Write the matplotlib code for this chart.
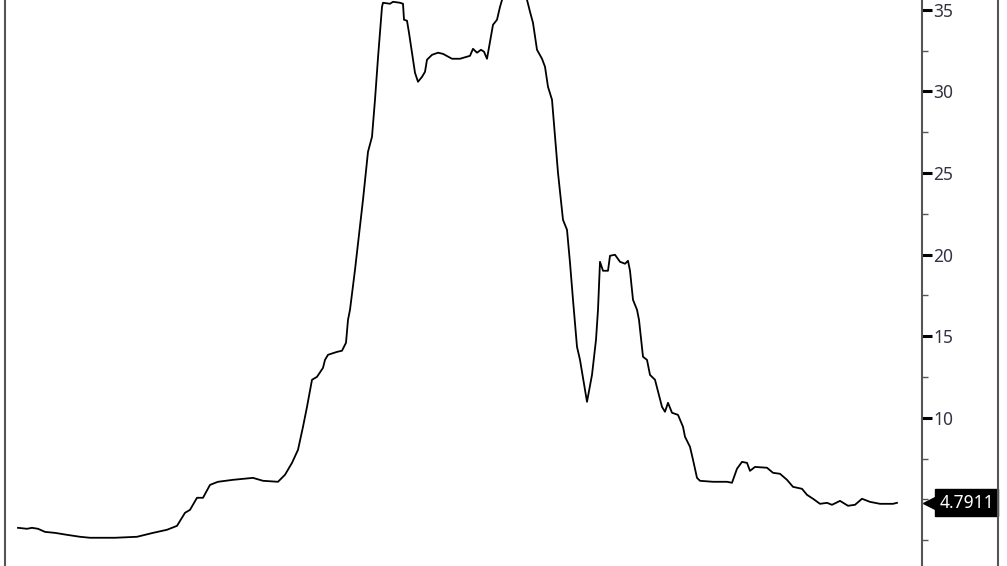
import matplotlib
matplotlib.use("Agg")
import matplotlib.pyplot as plt
from matplotlib.lines import Line2D
from matplotlib.ticker import MultipleLocator, FixedLocator

plt.rcParams["font.family"] = ["Noto Sans", "DejaVu Sans"]

# time index (arbitrary units) and series values
day = [18, 27, 32, 38, 45, 55, 67, 80, 90, 115, 137, 153, 167, 177, 185, 190, 197, 203,
       210, 218, 233, 253, 263, 278, 285, 292, 298, 303, 307, 312, 317, 323, 325, 328,
       337, 342, 346, 348, 350, 355, 363, 368, 372, 375, 378, 382, 383, 390, 393, 400,
       403, 404, 407, 409, 413, 415, 418, 422, 425, 427, 432, 438, 443, 452, 460, 470,
       473, 477, 481, 484, 487, 493, 497, 500, 502, 508, 515, 522, 527, 530, 533, 537,
       542, 545, 548, 552, 555, 558, 560, 563, 567, 570, 573, 577, 580, 587, 592, 596,
       598, 600, 603, 608, 610, 615, 620, 625, 628, 630, 633, 637, 639, 643, 647, 650,
       655, 662, 665, 668, 672, 678, 683, 685, 690, 693, 697, 700, 713, 727, 732, 737,
       742, 747, 750, 755, 767, 773, 780, 787, 793, 802, 807, 813, 820, 827, 832, 840,
       848, 855, 862, 870, 880, 893, 897]
value = [3.26, 3.20, 3.26, 3.20, 3.01, 2.95, 2.83, 2.71, 2.65, 2.65, 2.71, 2.95, 3.14, 3.38,
         4.18, 4.36, 5.10, 5.10, 5.89, 6.08, 6.20, 6.32, 6.14, 6.08, 6.51, 7.24, 8.04, 9.45,
         10.67, 12.33, 12.51, 13.06, 13.55, 13.86, 14.04, 14.11, 14.60, 16.00, 16.62, 19.07,
         23.36, 26.30, 27.22, 29.49, 32.06, 35.18, 35.43, 35.37, 35.49, 35.43, 35.37, 34.39,
         34.33, 33.59, 31.94, 31.14, 30.59, 30.89, 31.20, 31.94, 32.24, 32.37, 32.30, 32.00,
         32.00, 32.18, 32.61, 32.37, 32.55, 32.43, 32.00, 34.08, 34.39, 35.18, 35.61, 36.6,
         37.0, 36.5, 35.61, 34.88, 34.20, 32.55, 32.00, 31.51, 30.28, 29.49, 27.22, 25.01,
         23.85, 22.13, 21.52, 19.50, 17.23, 14.35, 13.55, 10.98, 12.63, 14.78, 16.62, 19.56,
         19.01, 19.01, 19.93, 19.99, 19.56, 19.44, 19.62, 19.01, 17.23, 16.62, 16.00, 13.74,
         13.55, 12.63, 12.33, 10.67, 10.37, 10.92, 10.31, 10.18, 9.45, 8.84, 8.22, 7.43,
         6.32, 6.14, 6.08, 6.08, 6.02, 6.88, 7.30, 7.24, 6.75, 6.99, 6.94, 6.63, 6.57, 6.20,
         5.77, 5.65, 5.28, 5.04, 4.73, 4.79, 4.67, 4.91, 4.61, 4.67, 5.04, 4.85, 4.73, 4.73,
         4.7911]
major_ticks = [10, 15, 20, 25, 30, 35]
last_label = "4.7911"

fig = plt.figure(figsize=(10.07, 5.66), dpi=100)
ax = fig.add_axes([5 / 1007, 0.0, (922 - 5) / 1007, 1.0])
ax.plot(day, value, color="black", lw=1.3)

ax.set_xlim(5, 922)
ax.set_ylim(0.92, 35.6)
ax.set_xticks([])

ax.yaxis.tick_right()
ax.yaxis.set_major_locator(FixedLocator(major_ticks))
ax.yaxis.set_minor_locator(MultipleLocator(2.5))
ax.tick_params(axis="y", which="major", length=7, width=2.2, color="black",
               labelsize=12.5, labelcolor="#333344", pad=1)
ax.tick_params(axis="y", which="minor", length=4, width=1, color="#555555")

for s in ("top", "bottom"):
    ax.spines[s].set_visible(False)
for s in ("left", "right"):
    ax.spines[s].set_color("#555555")
    ax.spines[s].set_linewidth(1.5)

# last-value tag on the axis
tr = ax.get_yaxis_transform()
ax.plot([1.009], [value[-1]], marker="<", ms=10, color="black", transform=tr, clip_on=False)
ax.text(1.019, value[-1], last_label, transform=tr, ha="left", va="center",
        color="white", fontsize=12.5, clip_on=False,
        bbox=dict(boxstyle="square,pad=0.25", fc="black", ec="black"))

# outer border on the right
fig.add_artist(Line2D([998 / 1007, 998 / 1007], [0, 1], color="#555555", lw=1.5))

fig.savefig("out.png", dpi=100)
